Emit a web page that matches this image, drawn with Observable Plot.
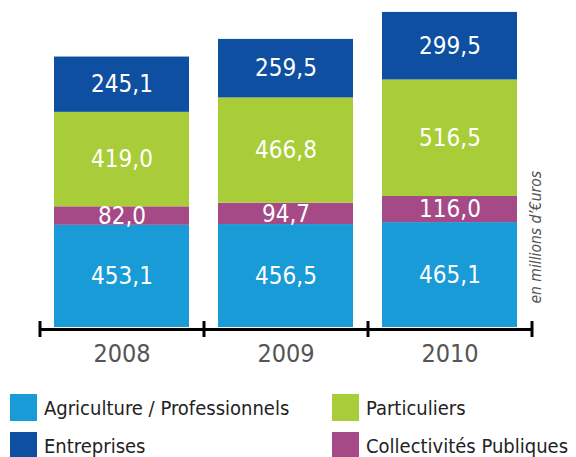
<!DOCTYPE html>
<html>
<head>
<meta charset="utf-8">
<script src="https://cdn.jsdelivr.net/npm/d3@7"></script>
<script src="https://cdn.jsdelivr.net/npm/@observablehq/plot@0.6"></script>
<style>
  html, body { margin: 0; padding: 0; background: #fff; }
  body { width: 576px; height: 457px; overflow: hidden; font-family: "Liberation Sans Narrow", "DejaVu Sans Condensed", "Arial Narrow", sans-serif; }
  #chart svg { display: block; }
  .legend { position: relative; height: 82px; }
  .item { position: absolute; display: flex; align-items: center; font-size: 20px; color: #222; white-space: nowrap; }
  .sw { width: 27px; height: 27px; margin-right: 7px; flex: none; }
</style>
</head>
<body>
<div id="chart"></div>
<div class="legend" id="legend"></div>
<script>
const years = ["2008", "2009", "2010"];
const categories = ["Agriculture / Professionnels", "Collectivités Publiques", "Particuliers", "Entreprises"];
const colors = ["#189bd7", "#a54a87", "#a8cd38", "#0e4fa1"];
const agriculture = [453.1, 456.5, 465.1];
const collectivites = [82.0, 94.7, 116.0];
const particuliers = [419.0, 466.8, 516.5];
const entreprises = [245.1, 259.5, 299.5];
const unitLabel = "en millions d’€uros";
const legendOrder = ["Agriculture / Professionnels", "Particuliers", "Entreprises", "Collectivités Publiques"];

const series = [agriculture, collectivites, particuliers, entreprises];
const data = [];
years.forEach((y, i) => {
  categories.forEach((c, j) => data.push({year: y, cat: c, value: series[j][i]}));
});
const fmt = v => v.toFixed(1).replace(".", ",");

const W = 576, H = 375, mL = 39, mR = 45, mT = 0, mB = 48;
const step = (W - mL - mR) / years.length;
const font = '"Liberation Sans Narrow", "DejaVu Sans Condensed", "Arial Narrow", sans-serif';

const chart = Plot.plot({
  width: W, height: H,
  marginLeft: mL, marginRight: mR, marginTop: mT, marginBottom: mB,
  style: {fontFamily: font, fontSize: "25px", color: "#555", background: "white"},
  x: {domain: years, paddingInner: 0.177, paddingOuter: 0.0885, tickSize: 0, tickPadding: 17, label: null},
  y: {domain: [0, 1450], axis: null},
  color: {domain: categories, range: colors},
  marks: [
    Plot.barY(data, {x: "year", y: "value", fill: "cat", order: categories}),
    Plot.text(data, Plot.stackY({x: "year", y: "value", z: "cat", order: categories, text: d => fmt(d.value), fill: "white", fontSize: 24})),
    Plot.ruleY([0], {stroke: "black", strokeWidth: 3, dy: 2}),
    Plot.ruleX(years, {x: d => d, dx: -step / 2, stroke: "black", strokeWidth: 3, insetTop: H - mB - mT - 6, insetBottom: -10}),
    Plot.ruleX(years.slice(-1), {x: d => d, dx: step / 2, stroke: "black", strokeWidth: 3, insetTop: H - mB - mT - 6, insetBottom: -10}),
    Plot.text([unitLabel], {frameAnchor: "bottom-right", rotate: -90, textAnchor: "start", lineAnchor: "bottom", dx: 9, dy: -24, fontSize: 15.5, fontStyle: "italic", fill: "#555"})
  ]
});
document.getElementById("chart").append(chart);

const pos = {
  "Agriculture / Professionnels": [10, 19],
  "Particuliers": [332, 19],
  "Entreprises": [10, 57],
  "Collectivités Publiques": [332, 57]
};
const leg = document.getElementById("legend");
legendOrder.forEach(c => {
  const it = document.createElement("div");
  it.className = "item";
  it.style.left = pos[c][0] + "px";
  it.style.top = pos[c][1] + "px";
  const sw = document.createElement("span");
  sw.className = "sw";
  sw.style.background = colors[categories.indexOf(c)];
  const t = document.createElement("span");
  t.textContent = c;
  it.append(sw, t);
  leg.append(it);
});
</script>
</body>
</html>
